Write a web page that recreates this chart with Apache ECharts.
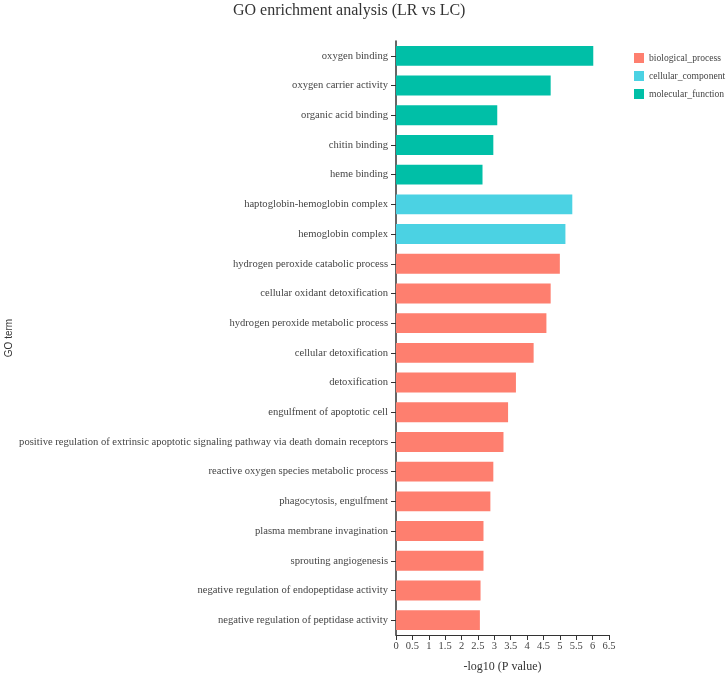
<!DOCTYPE html>
<html lang="en">
<head>
    <meta charset="UTF-8">
    <script src="https://cdn.jsdelivr.net/npm/echarts@6/dist/echarts.min.js"></script>
    <title>GO enrichment analysis</title>
    <style>
        html, body { margin: 0; padding: 0; background: #fff; }
        #main { width: 726px; height: 675px; }
    </style>
</head>
<body>
<div id="main"></div>
<script>
    // GO terms, top to bottom
    var terms = [
        'oxygen binding', 'oxygen carrier activity', 'organic acid binding', 'chitin binding', 'heme binding',
        'haptoglobin-hemoglobin complex', 'hemoglobin complex',
        'hydrogen peroxide catabolic process', 'cellular oxidant detoxification', 'hydrogen peroxide metabolic process',
        'cellular detoxification', 'detoxification', 'engulfment of apoptotic cell',
        'positive regulation of extrinsic apoptotic signaling pathway via death domain receptors',
        'reactive oxygen species metabolic process', 'phagocytosis, engulfment', 'plasma membrane invagination',
        'sprouting angiogenesis', 'negative regulation of endopeptidase activity', 'negative regulation of peptidase activity'
    ];
    var pvals = [6.02, 4.72, 3.09, 2.97, 2.64, 5.38, 5.17, 5.0, 4.72, 4.59,
                 4.2, 3.66, 3.42, 3.28, 2.97, 2.88, 2.67, 2.67, 2.58, 2.56];
    var groupOf = ['MF', 'MF', 'MF', 'MF', 'MF', 'CC', 'CC', 'BP', 'BP', 'BP',
                   'BP', 'BP', 'BP', 'BP', 'BP', 'BP', 'BP', 'BP', 'BP', 'BP'];
    var groups = ['BP', 'CC', 'MF'];
    var groupNames = ['biological_process', 'cellular_component', 'molecular_function'];
    var groupColors = ['#fe7f6f', '#4bd2e3', '#00bfa7'];
    var xTicks = { min: 0, max: 6.5, step: 0.5 };

    var serif = '"Liberation Serif", "DejaVu Serif", serif';

    var series = groups.map(function (g, k) {
        return {
            name: groupNames[k],
            type: 'bar',
            stack: 'go',
            barCategoryGap: '33%',
            itemStyle: { color: groupColors[k] },
            data: pvals.map(function (v, i) { return groupOf[i] === g ? v : null; })
        };
    });

    var myChart = echarts.init(document.getElementById('main'));
    myChart.setOption({
        animation: false,
        title: {
            text: 'GO enrichment analysis (LR vs LC)',
            left: 228,
            top: -2,
            textStyle: { fontFamily: serif, fontWeight: 'normal', fontSize: 16, color: '#333' }
        },
        legend: {
            orient: 'vertical',
            left: 629,
            top: 48,
            itemWidth: 10,
            itemHeight: 10,
            itemGap: 8,
            icon: 'rect',
            textStyle: { fontFamily: serif, fontSize: 9.6, color: '#444' },
            data: groupNames
        },
        grid: { left: 396, right: 117, top: 41, bottom: 40, containLabel: false, outerBoundsMode: 'none' },
        xAxis: {
            type: 'value',
            min: xTicks.min,
            max: xTicks.max,
            interval: xTicks.step,
            name: '-log10 (P value)',
            nameLocation: 'middle',
            nameGap: 26,
            nameTextStyle: { fontFamily: serif, fontSize: 12, color: '#333' },
            axisLine: { show: true, lineStyle: { color: '#333', width: 1 } },
            axisTick: { show: true, length: 5, lineStyle: { color: '#333' } },
            axisLabel: { fontFamily: serif, fontSize: 10.5, color: '#444', margin: 6 },
            splitLine: { show: false }
        },
        yAxis: {
            type: 'category',
            inverse: true,
            data: terms,
            name: 'GO term',
            nameLocation: 'middle',
            nameGap: 382,
            nameRotate: 90,
            nameTextStyle: { fontFamily: '"Liberation Sans", Arial, sans-serif', fontSize: 10, color: '#333' },
            axisLine: { show: true, lineStyle: { color: '#333', width: 1.5 } },
            axisTick: { show: true, alignWithLabel: true, length: 5, lineStyle: { color: '#333' } },
            axisLabel: { fontFamily: serif, fontSize: 10.6, color: '#444', margin: 8 }
        },
        series: series
    });
</script>
</body>
</html>
